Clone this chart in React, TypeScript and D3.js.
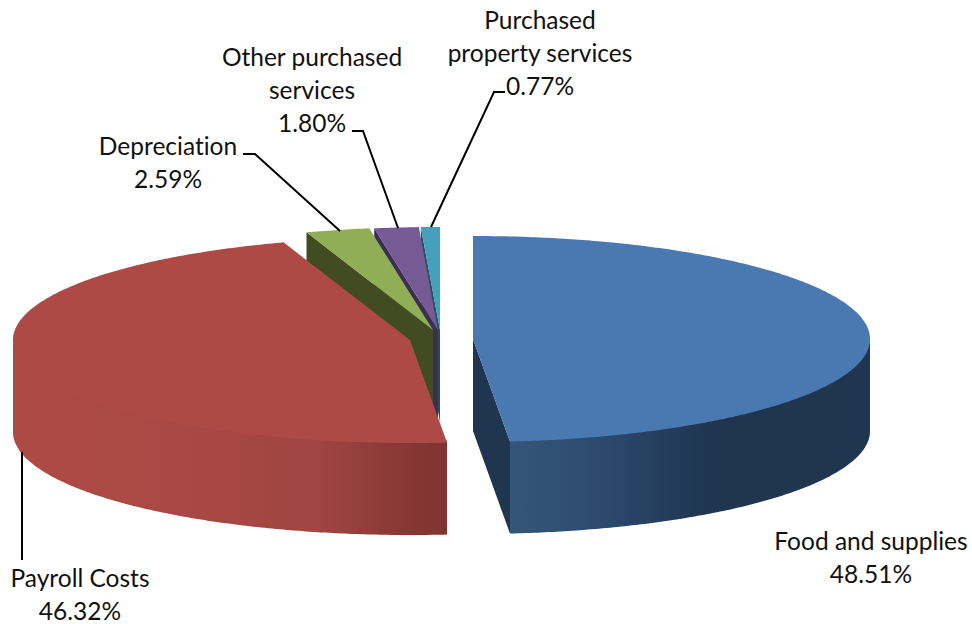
import React from "react";
import * as d3 from "d3";

const categories = ["Food and supplies", "Payroll Costs", "Depreciation", "Other purchased services", "Purchased property services"];
const shares = [48.51, 46.32, 2.59, 1.80, 0.77];
const topColors = ["#4a78b0", "#ae4a46", "#90ae55", "#755a96", "#45a0bb"];
const wallColors = ["#1f3550", "#7f3331", "#414c20", "#3b2e50", "#24505e"];
const centersX = [473, 410, 433, 438, 440];
const centersY = [339, 340, 330, 330, 330];
const labelLines = [
  ["Food and supplies", "48.51%"],
  ["Payroll Costs", "46.32%"],
  ["Depreciation", "2.59%"],
  ["Other purchased", "services", "1.80%"],
  ["Purchased", "property services", "0.77%"],
];
const labelX = [871, 80, 168, 312, 540];
const labelY = [550, 587, 155, 66, 29];
const leaders: ([number, number][] | null)[] = [
  null,
  [[22, 452], [22, 560]],
  [[243, 154], [255, 154], [340, 231]],
  [[352, 131], [363, 131], [398, 228]],
  [[505, 92], [494, 92], [431, 227]],
];

const RX = 397;
const RY = 103;
const DEPTH = 92;

const arcsData = d3.pie<number>().sort(null).value((d) => d).startAngle(0).endAngle(2 * Math.PI)(shares);

const pt = (i: number, a: number, dz = 0): [number, number] => {
  const sx = d3.scaleLinear().domain([-1, 1]).range([centersX[i] - RX, centersX[i] + RX]);
  const sy = d3.scaleLinear().domain([-1, 1]).range([centersY[i] - RY, centersY[i] + RY]);
  return [sx(Math.sin(a)), sy(-Math.cos(a)) + dz];
};
const arcPts = (i: number, a0: number, a1: number, dz = 0) => {
  const n = Math.max(2, Math.ceil(Math.abs(a1 - a0) / 0.01));
  return d3.range(n + 1).map((k) => pt(i, a0 + ((a1 - a0) * k) / n, dz));
};
const line = d3.line();

const topPath = (i: number) => {
  const { startAngle, endAngle } = arcsData[i];
  return line([[centersX[i], centersY[i]], ...arcPts(i, startAngle, endAngle)])! + "Z";
};
const outerWall = (i: number) => {
  const a0 = Math.max(arcsData[i].startAngle, Math.PI / 2);
  const a1 = Math.min(arcsData[i].endAngle, (3 * Math.PI) / 2);
  if (a1 <= a0) return "";
  // the upper edge runs a little under the top face so no seam shows
  return line([...arcPts(i, a0, a1, -2), ...arcPts(i, a1, a0, DEPTH)])! + "Z";
};
const radialWall = (i: number, a: number) => {
  const c: [number, number] = [centersX[i], centersY[i]];
  const o = pt(i, a);
  return line([c, o, [o[0], o[1] + DEPTH], [c[0], c[1] + DEPTH]])! + "Z";
};

const font = "Lato, Carlito, sans-serif";

export default function App() {
  // back-to-front painting order
  const small = [4, 3, 2];
  return (
    <svg width={972} height={624} style={{ position: "absolute", left: 0, top: 0, background: "#fff" }}>
      <defs>
        <linearGradient id="blueWall" gradientUnits="userSpaceOnUse" x1={510} x2={870} y1={0} y2={0}>
          <stop offset="0" stopColor="#345679" />
          <stop offset="0.25" stopColor="#2c4a6e" />
          <stop offset="0.55" stopColor="#1f3550" />
          <stop offset="1" stopColor="#1f3550" />
        </linearGradient>
        <linearGradient id="redWall" gradientUnits="userSpaceOnUse" x1={13} x2={447} y1={0} y2={0}>
          <stop offset="0" stopColor="#ae4a46" />
          <stop offset="0.4" stopColor="#a94844" />
          <stop offset="0.7" stopColor="#a04541" />
          <stop offset="0.92" stopColor="#863734" />
          <stop offset="1" stopColor="#7f3331" />
        </linearGradient>
      </defs>
      {small.map((i) => (
        <g key={categories[i]}>
          <path d={radialWall(i, arcsData[i].startAngle)} fill={wallColors[i]} />
          <path d={topPath(i)} fill={topColors[i]} />
        </g>
      ))}
      <path d={outerWall(1)} fill="url(#redWall)" />
      <path d={topPath(1)} fill={topColors[1]} />
      <path d={radialWall(0, arcsData[0].endAngle)} fill={wallColors[0]} />
      <path d={outerWall(0)} fill="url(#blueWall)" />
      <path d={topPath(0)} fill={topColors[0]} />
      {leaders.map((l, i) =>
        l ? <path key={i} d={line(l)!} fill="none" stroke="#000" strokeWidth={2} /> : null
      )}
      {labelLines.map((lines, i) => (
        <text
          key={i}
          textAnchor="middle"
          fontFamily={font}
          fontSize={24.5}
          fill="#111"
          style={{ fontVariantLigatures: "none" }}
        >
          {lines.map((t, k) => (
            <tspan key={k} x={labelX[i]} y={labelY[i] + k * 33}>{t}</tspan>
          ))}
        </text>
      ))}
    </svg>
  );
}
